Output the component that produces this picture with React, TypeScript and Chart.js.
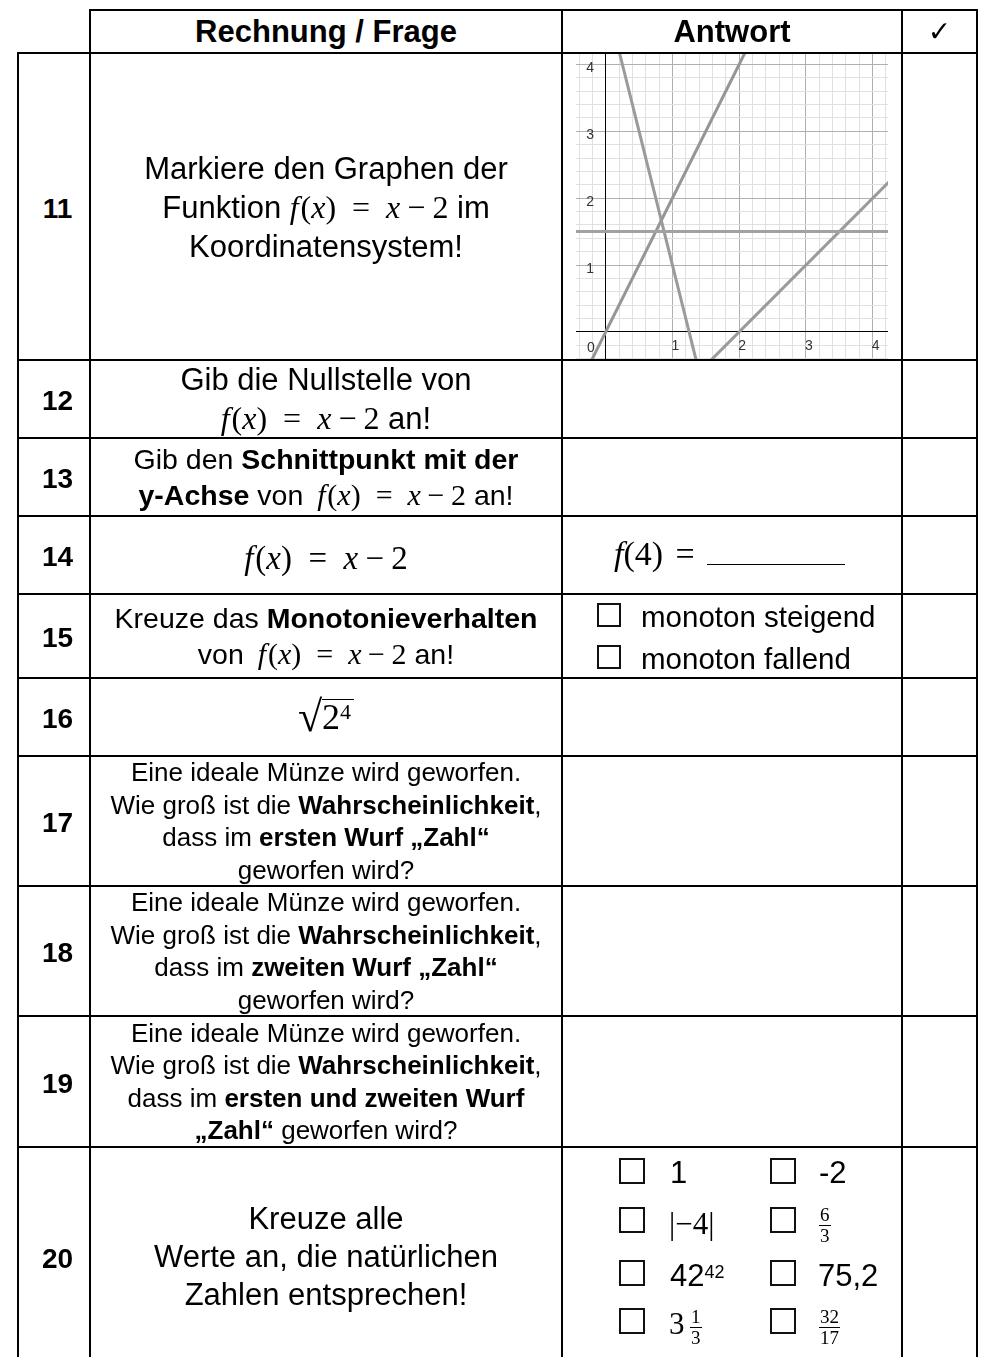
import React, { useEffect, useRef } from 'react';
import { Chart, registerables } from 'chart.js';

Chart.register(...registerables);

// ---------------- data ----------------
const rowNumbers = ['11', '12', '13', '14', '15', '16', '17', '18', '19', '20'];
const headerLabels = ['Rechnung / Frage', 'Antwort', '✓'];

// coordinate system (row 11)
const xRange = [-0.445, 4.23];
const yRange = [-0.405, 4.17];
const gridStep = 0.2;
const axisTickValues = [1, 2, 3, 4];
const axisTickLabels = ['1', '2', '3', '4'];
const originLabel = '0';
// each graph: two points of a straight line
const lineRising = [{ x: -0.5, y: -1 }, { x: 2.5, y: 5 }]; // y = 2x
const lineFalling = [{ x: 0, y: 5 }, { x: 1.5, y: -1 }]; // y = -4x + 5
const lineFlat = [{ x: -1, y: 1.5 }, { x: 5, y: 1.5 }]; // y = 1.5
const lineTarget = [{ x: 1, y: -1 }, { x: 5, y: 3 }]; // y = x - 2

const monotonyOptions = ['monoton steigend', 'monoton fallend'];

// ---------------- layout ----------------
const SANS = '"Liberation Sans", Arial, Helvetica, sans-serif';
const SERIF = '"Liberation Serif", "Times New Roman", serif';
const colX = [18, 90, 562, 902, 977];
const rowY = [53, 360, 438, 516, 594, 678, 756, 886, 1016, 1147, 1367];
const headerTop = 10;
const BW = 2;

function Box({ x0, y0, x1, y1, children, style }: any) {
  return (
    <div
      style={{
        position: 'absolute',
        left: x0 - BW / 2,
        top: y0 - BW / 2,
        width: x1 - x0 + BW,
        height: y1 - y0 + BW,
        border: `${BW}px solid #000`,
        boxSizing: 'border-box',
        display: 'flex',
        alignItems: 'center',
        justifyContent: 'center',
        textAlign: 'center',
        ...style,
      }}
    >
      {children}
    </div>
  );
}

function At({ x, baseline, size, family, children, style }: any) {
  return (
    <div
      style={{
        position: 'absolute',
        left: x,
        top: baseline - 0.845 * size,
        fontSize: size,
        lineHeight: `${size}px`,
        fontFamily: family || SANS,
        whiteSpace: 'nowrap',
        ...style,
      }}
    >
      {children}
    </div>
  );
}

function CheckBox({ x, y, s }: any) {
  return (
    <div
      style={{
        position: 'absolute',
        left: x,
        top: y,
        width: s,
        height: s,
        border: '2px solid #111',
        boxSizing: 'border-box',
      }}
    />
  );
}

function Frac({ x, barY, num, den, size }: any) {
  return (
    <div
      style={{
        position: 'absolute',
        left: x,
        top: barY - size - 1,
        display: 'inline-flex',
        flexDirection: 'column',
        alignItems: 'center',
        fontFamily: SERIF,
        fontSize: size,
        lineHeight: `${size}px`,
      }}
    >
      <span style={{ padding: '0 1px' }}>{num}</span>
      <span style={{ borderTop: '1.6px solid #000', alignSelf: 'stretch', padding: '0 1px', marginTop: 1 }}>{den}</span>
    </div>
  );
}

function Fx({ size }: any) {
  return (
    <span style={{ fontFamily: SERIF, fontSize: size, whiteSpace: 'nowrap' }}>
      <i>f</i>
      <span style={{ marginLeft: '0.06em' }}>(</span>
      <i>x</i>)<span style={{ margin: '0 0.5em' }}>=</span>
      <i>x</i>
      <span style={{ margin: '0 0.22em' }}>−</span>2
    </span>
  );
}

// ---------------- chart ----------------
function GraphChart() {
  const ref = useRef<HTMLCanvasElement>(null);
  useEffect(() => {
    const onStep = (v: number) => Math.abs(v / gridStep - Math.round(v / gridStep)) < 1e-6;
    const isMajor = (v: number) => Math.abs(v - Math.round(v)) < 1e-6;
    const gridColor = (ctx: any) => {
      const v = ctx.tick ? ctx.tick.value : undefined;
      if (v === undefined || !onStep(v)) return 'rgba(0,0,0,0)';
      return isMajor(v) ? '#b0b0b0' : '#e0e0e0';
    };
    const labelFor = (v: number) => {
      const k = Math.round(v);
      if (Math.abs(v - k) > 1e-6) return '';
      const i = axisTickValues.indexOf(k);
      return i >= 0 ? axisTickLabels[i] : '';
    };
    const zeroPad = (s: any) => {
      s.paddingLeft = 0;
      s.paddingRight = 0;
      s.paddingTop = 0;
      s.paddingBottom = 0;
    };
    const ds = (data: any, color: string) => ({
      data,
      borderColor: color,
      borderWidth: 3,
      pointRadius: 0,
      pointHoverRadius: 0,
      fill: false,
      tension: 0,
      clip: 0,
    });
    const tickFont = { family: 'Liberation Sans', size: 14 };
    const originPlugin = {
      id: 'originLabel',
      afterDraw(chart: any) {
        const { ctx, scales } = chart;
        ctx.save();
        ctx.font = '14px "Liberation Sans"';
        ctx.fillStyle = '#333';
        ctx.textAlign = 'right';
        ctx.textBaseline = 'middle';
        ctx.fillText(originLabel, scales.x.getPixelForValue(0) - 11, scales.y.getPixelForValue(0) + 16);
        ctx.restore();
      },
    };
    const chart = new Chart(ref.current as HTMLCanvasElement, {
      type: 'line',
      data: {
        datasets: [
          ds(lineFlat, '#a2a2a2'),
          ds(lineTarget, '#9a9a9a'),
          ds(lineFalling, '#9a9a9a'),
          ds(lineRising, '#959595'),
        ] as any,
      },
      options: {
        animation: false,
        responsive: false,
        maintainAspectRatio: false,
        events: [],
        layout: { padding: 0 },
        plugins: { legend: { display: false }, tooltip: { enabled: false } },
        scales: {
          x: {
            type: 'linear',
            min: xRange[0],
            max: xRange[1],
            position: { y: 0 } as any,
            afterFit: zeroPad,
            ticks: {
              stepSize: gridStep,
              includeBounds: false,
              autoSkip: false,
              maxRotation: 0,
              minRotation: 0,
              padding: 6,
              labelOffset: 3,
              color: '#333',
              font: tickFont,
              callback: (v: any) => labelFor(Number(v)),
            },
            grid: { color: gridColor, lineWidth: 1, drawTicks: false },
            border: { display: true, color: '#000', width: 1 },
          },
          y: {
            type: 'linear',
            min: yRange[0],
            max: yRange[1],
            position: { x: 0 } as any,
            afterFit: zeroPad,
            ticks: {
              stepSize: gridStep,
              includeBounds: false,
              autoSkip: false,
              padding: 0,
              labelOffset: 4,
              color: '#333',
              font: tickFont,
              callback: (v: any) => {
                const l = labelFor(Number(v));
                return l ? l + '   ' : '';
              },
            },
            grid: { color: gridColor, lineWidth: 1, drawTicks: false },
            border: { display: true, color: '#000', width: 1 },
          },
        },
      } as any,
      plugins: [originPlugin],
    });
    return () => chart.destroy();
  }, []);
  return (
    <canvas
      ref={ref}
      width={312}
      height={306}
      style={{ position: 'absolute', left: 576, top: 53, width: 312, height: 306 }}
    />
  );
}

// ---------------- page ----------------
export default function App() {
  const [cA, cB, cC, cD, cE] = colX;
  const B = (s: string) => <b>{s}</b>;
  const questionCells = [
    // 11
    <div style={{ fontSize: 31, lineHeight: '39px', marginTop: 2 }}>
      Markiere den Graphen der
      <br />
      Funktion <Fx size={32} /> im
      <br />
      Koordinatensystem!
    </div>,
    // 12
    <div style={{ fontSize: 31, lineHeight: '38px' }}>
      Gib die Nullstelle von
      <br />
      <Fx size={32} /> an!
    </div>,
    // 13
    <div style={{ fontSize: 28.5, lineHeight: '36.5px' }}>
      Gib den {B('Schnittpunkt mit der')}
      <br />
      {B('y-Achse')} von <span style={{ marginLeft: 6 }}><Fx size={30} /></span> an!
    </div>,
    // 14
    <div style={{ marginTop: 6 }}>
      <Fx size={33} />
    </div>,
    // 15
    <div style={{ fontSize: 28.5, lineHeight: '36.5px' }}>
      Kreuze das {B('Monotonieverhalten')}
      <br />
      von <span style={{ marginLeft: 6 }}><Fx size={30} /></span> an!
    </div>,
    // 16
    <div style={{ fontFamily: SERIF, fontSize: 36, display: 'flex', alignItems: 'flex-start', marginTop: 0 }}>
      <span style={{ fontSize: 44, lineHeight: '44px' }}>√</span>
      <span style={{ borderTop: '1.8px solid #000', lineHeight: '34px', marginTop: 4, paddingRight: 3 }}>
        2<span style={{ fontSize: 22, verticalAlign: 'top', lineHeight: '24px' }}>4</span>
      </span>
    </div>,
    // 17
    <div style={{ fontSize: 26, lineHeight: '32.5px' }}>
      Eine ideale Münze wird geworfen.
      <br />
      Wie groß ist die {B('Wahrscheinlichkeit')},
      <br />
      dass im {B('ersten Wurf „Zahl“')}
      <br />
      geworfen wird?
    </div>,
    // 18
    <div style={{ fontSize: 26, lineHeight: '32.5px' }}>
      Eine ideale Münze wird geworfen.
      <br />
      Wie groß ist die {B('Wahrscheinlichkeit')},
      <br />
      dass im {B('zweiten Wurf „Zahl“')}
      <br />
      geworfen wird?
    </div>,
    // 19
    <div style={{ fontSize: 26, lineHeight: '32.5px' }}>
      Eine ideale Münze wird geworfen.
      <br />
      Wie groß ist die {B('Wahrscheinlichkeit')},
      <br />
      dass im {B('ersten und zweiten Wurf')}
      <br />
      {B('„Zahl“')} geworfen wird?
    </div>,
    // 20
    <div style={{ fontSize: 31, lineHeight: '38px', marginTop: 0 }}>
      Kreuze alle
      <br />
      Werte an, die natürlichen
      <br />
      Zahlen entsprechen!
    </div>,
  ];

  return (
    <div
      style={{
        position: 'fixed',
        left: 0,
        top: 0,
        width: 986,
        height: 1357,
        overflow: 'hidden',
        background: '#fff',
        fontFamily: SANS,
        color: '#000',
      }}
    >
      <GraphChart />

      {/* header */}
      <Box x0={cB} y0={headerTop} x1={cC} y1={rowY[0]} style={{ fontWeight: 'bold', fontSize: 31 }}>
        {headerLabels[0]}
      </Box>
      <Box x0={cC} y0={headerTop} x1={cD} y1={rowY[0]} style={{ fontWeight: 'bold', fontSize: 31 }}>
        {headerLabels[1]}
      </Box>
      <Box x0={cD} y0={headerTop} x1={cE} y1={rowY[0]} style={{ fontFamily: '"DejaVu Sans", sans-serif', fontSize: 28 }}>
        {headerLabels[2]}
      </Box>

      {rowNumbers.map((n, i) => (
        <React.Fragment key={n}>
          <Box
            x0={cA}
            y0={rowY[i]}
            x1={cB}
            y1={rowY[i + 1]}
            style={{ fontWeight: 'bold', fontSize: 28, paddingLeft: 7, paddingTop: 4 }}
          >
            {n}
          </Box>
          <Box x0={cB} y0={rowY[i]} x1={cC} y1={rowY[i + 1]}>
            {questionCells[i]}
          </Box>
          <Box x0={cC} y0={rowY[i]} x1={cD} y1={rowY[i + 1]} />
          <Box x0={cD} y0={rowY[i]} x1={cE} y1={rowY[i + 1]} />
        </React.Fragment>
      ))}

      {/* row 14 answer */}
      <At x={614} baseline={566} size={34} family={SERIF}>
        <i>f</i>(4) <span style={{ marginLeft: 4 }}>=</span>
        <span
          style={{
            display: 'inline-block',
            width: 138,
            marginLeft: 12,
            borderBottom: '1.5px solid #000',
            height: 1,
            verticalAlign: 'baseline',
          }}
        />
      </At>

      {/* row 15 answer */}
      <CheckBox x={597} y={603} s={24} />
      <At x={641} baseline={627} size={29.5}>{monotonyOptions[0]}</At>
      <CheckBox x={597} y={645} s={24} />
      <At x={641} baseline={668.5} size={29.5}>{monotonyOptions[1]}</At>

      {/* row 20 answer */}
      <CheckBox x={619} y={1158} s={26} />
      <At x={670} baseline={1183} size={31}>1</At>
      <CheckBox x={770} y={1158} s={26} />
      <At x={819} baseline={1183} size={31}>-2</At>

      <CheckBox x={619} y={1207} s={26} />
      <At x={669} baseline={1234} size={31} family={SERIF}>|−4|</At>
      <CheckBox x={770} y={1207} s={26} />
      <Frac x={819} barY={1225} num="6" den="3" size={19} />

      <CheckBox x={619} y={1260} s={26} />
      <At x={670} baseline={1286} size={31}>
        42<span style={{ fontSize: 18, verticalAlign: 'top', position: 'relative', top: -3 }}>42</span>
      </At>
      <CheckBox x={770} y={1260} s={26} />
      <At x={818} baseline={1286} size={31}>75,2</At>

      <CheckBox x={619} y={1308} s={26} />
      <At x={669} baseline={1334} size={31} family={SERIF}>3</At>
      <Frac x={690} barY={1327} num="1" den="3" size={19} />
      <CheckBox x={770} y={1308} s={26} />
      <Frac x={819} barY={1327} num="32" den="17" size={19} />
    </div>
  );
}
